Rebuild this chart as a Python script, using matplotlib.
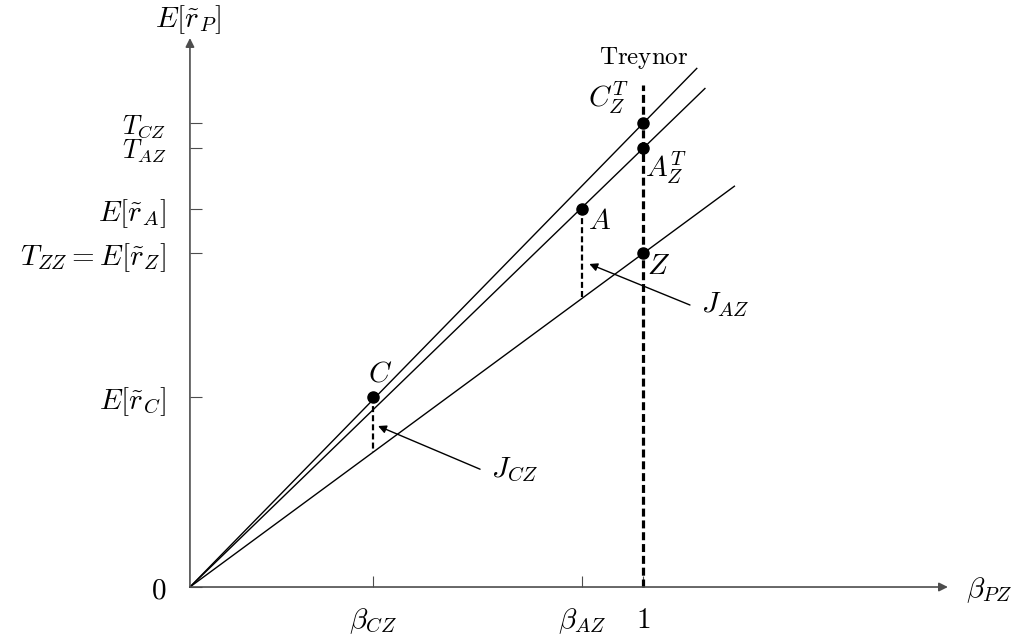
import matplotlib
matplotlib.use('Agg')
import matplotlib.pyplot as plt

plt.rcParams['mathtext.fontset'] = 'cm'
plt.rcParams['font.family'] = 'serif'
plt.rcParams['font.serif'] = ['DejaVu Serif']

# values (units: beta_Z = 1, E[r_Z] = 1)
names = ['C', 'A', 'Z']
betas = [0.404, 0.865, 1.0]
returns = [0.570, 1.132, 1.0]
treynor_pts = ['C', 'A']
treynor_vals = [1.390, 1.315]       # T_CZ, T_AZ (height at beta = 1)
line_ends = [1.118, 1.136, 1.201]   # where each line stops (beta)
treynor_top = 1.504

xtick_vals = betas
xtick_labels = [r'$\beta_{CZ}$', r'$\beta_{AZ}$', r'$1$']
ytick_vals = [0, returns[0], returns[2], returns[1], treynor_vals[1], treynor_vals[0]]
ytick_labels = [r'$0$', r'$E[\tilde{r}_C]$', r'$T_{ZZ}=E[\tilde{r}_Z]$',
                r'$E[\tilde{r}_A]$', r'$T_{AZ}$', r'$T_{CZ}$']

FS = 21
axcol = '0.3'

fig = plt.figure(figsize=(10.18, 6.37), dpi=100)
ax = fig.add_axes([0, 0, 1, 1])
ax.set_xlim(-0.419, 1.8266)
ax.set_ylim(-0.1498, 1.759)

for s in ['top', 'right', 'left', 'bottom']:
    ax.spines[s].set_visible(False)
ax.spines['left'].set_position(('data', 0))
ax.spines['bottom'].set_position(('data', 0))

ax.set_xticks(xtick_vals)
ax.set_xticklabels(xtick_labels, fontsize=FS)
ax.set_yticks(ytick_vals)
ax.set_yticklabels(ytick_labels, fontsize=FS)
# the two Treynor ratios sit close together
for lab in ax.get_yticklabels()[-2:]:
    lab.set_fontsize(19)
ax.tick_params(axis='x', direction='in', length=8, width=0.8, color=axcol, pad=14)
ax.tick_params(axis='y', direction='in', length=8.5, width=0.8, color=axcol, pad=17)

# axes with arrows
ax.annotate('', xy=(1.672, 0), xytext=(0, 0),
            arrowprops=dict(arrowstyle='-|>', color=axcol, lw=1.2, mutation_scale=13,
                            shrinkA=0, shrinkB=0))
ax.annotate('', xy=(0, 1.645), xytext=(0, 0),
            arrowprops=dict(arrowstyle='-|>', color=axcol, lw=1.2, mutation_scale=13,
                            shrinkA=0, shrinkB=0))
ax.text(1.712, -0.01, r'$\beta_{PZ}$', fontsize=FS, ha='left', va='center')
ax.text(-0.005, 1.70, r'$E[\tilde{r}_P]$', fontsize=FS, ha='center', va='center')

# Treynor lines through the origin
slopes = treynor_vals + [returns[2] / betas[2]]
for k, e in zip(slopes, line_ends):
    ax.plot([0, e], [0, k * e], color='black', lw=1)

zslope = returns[2] / betas[2]

# vertical line at beta = 1
ax.plot([1, 1], [0, treynor_top], color='black', lw=2.3, dashes=(2.5, 1.2))

# J segments
for b, r in zip(betas[:2], returns[:2]):
    ax.plot([b, b], [r, zslope * b], color='black', lw=1.6, dashes=(2.7, 1.4))

# points
ax.plot(betas, returns, 'o', color='black', ms=8)
ax.plot([1, 1], treynor_vals, 'o', color='black', ms=8)

off = {'C': (7, 23), 'A': (17, -12), 'Z': (15, -13)}
for n, b, r in zip(names, betas, returns):
    ax.annotate(r'$%s$' % n, (b, r), textcoords='offset pixels', xytext=off[n],
                fontsize=FS, ha='center', va='center')
ax.annotate(r'$C_Z^T$', (1, treynor_vals[0]), textcoords='offset pixels', xytext=(-35, 25),
            fontsize=FS, ha='center', va='center')
ax.annotate(r'$A_Z^T$', (1, treynor_vals[1]), textcoords='offset pixels', xytext=(23, -20),
            fontsize=FS, ha='center', va='center')
ax.annotate(r'$\mathrm{Treynor}$', (1, treynor_top), textcoords='offset pixels', xytext=(0, 14),
            fontsize=18, ha='center', va='bottom')

# J labels with arrows
ax.annotate('', xy=(0.415, 0.4825), xytext=(0.640, 0.353),
            arrowprops=dict(arrowstyle='-|>', color='black', lw=1, mutation_scale=12,
                            shrinkA=0, shrinkB=0))
ax.text(0.665, 0.350, r'$J_{CZ}$', fontsize=FS, ha='left', va='center')
ax.annotate('', xy=(0.881, 0.968), xytext=(1.103, 0.845),
            arrowprops=dict(arrowstyle='-|>', color='black', lw=1, mutation_scale=12,
                            shrinkA=0, shrinkB=0))
ax.text(1.128, 0.845, r'$J_{AZ}$', fontsize=FS, ha='left', va='center')

fig.savefig('out.png', dpi=100)
